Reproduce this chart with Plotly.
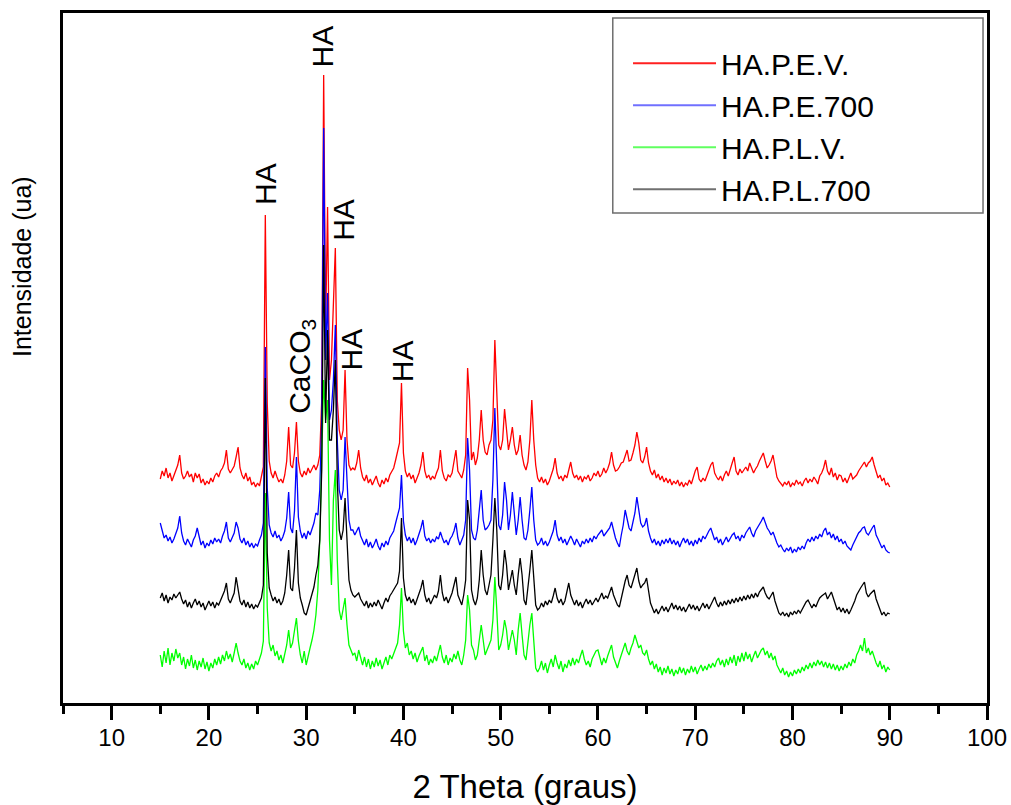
import plotly.graph_objects as go

# ---- scan definition (2-theta, degrees) ----
two_theta_start = 15.0
two_theta_step = 0.2

# ---- series (relative intensities, a.u.), one value per step from 15.0 to 90.0 ----
red_counts = [  # HA.P.E.V.
    44, 52, 47, 55, 45, 50, 42, 48, 53, 58,
    68, 50, 44, 47, 52, 46, 49, 41, 50, 45,
    49, 40, 44, 38, 42, 39, 45, 41, 47, 50,
    46, 52, 55, 60, 73, 54, 50, 53, 57, 66,
    76, 55, 48, 44, 50, 42, 46, 38, 41, 36,
    40, 37, 45, 56, 308, 120, 62, 50, 45, 52,
    46, 41, 44, 40, 48, 62, 96, 58, 55, 70,
    101, 62, 50, 46, 52, 48, 55, 50, 54, 58,
    53, 58, 68, 123, 448, 193, 316, 143, 163, 223,
    275, 123, 93, 83, 93, 153, 83, 58, 53, 55,
    53, 60, 73, 55, 46, 42, 48, 40, 44, 38,
    42, 47, 40, 36, 43, 39, 45, 41, 48, 52,
    55, 63, 73, 80, 140, 70, 52, 46, 50, 44,
    48, 40, 45, 50, 58, 71, 52, 45, 48, 43,
    47, 44, 50, 55, 73, 52, 45, 42, 48, 46,
    50, 62, 73, 52, 48, 45, 53, 68, 155, 123,
    63, 71, 58, 65, 83, 113, 83, 71, 68, 78,
    83, 103, 183, 123, 78, 73, 83, 114, 93, 73,
    83, 96, 78, 68, 73, 88, 68, 58, 53, 61,
    83, 123, 83, 58, 45, 41, 46, 40, 44, 38,
    42, 48, 54, 65, 50, 44, 47, 42, 48, 45,
    52, 61, 50, 45, 48, 43, 47, 41, 46, 44,
    48, 42, 45, 50, 47, 52, 46, 49, 55, 50,
    54, 60, 71, 58, 52, 53, 56, 60, 61, 68,
    73, 62, 63, 70, 78, 91, 80, 63, 60, 66,
    76, 60, 52, 48, 53, 45, 49, 43, 47, 41,
    45, 40, 44, 38, 42, 39, 43, 37, 41, 36,
    40, 38, 43, 39, 46, 52, 56, 44, 41, 45,
    42, 48, 53, 58, 61, 50, 46, 43, 47, 42,
    48, 52, 47, 55, 60, 66, 52, 48, 54, 50,
    53, 56, 52, 60, 55, 50, 54, 57, 62, 66,
    70, 62, 55, 58, 62, 68, 56, 46, 42, 40,
    37, 41, 38, 42, 36, 40, 38, 43, 39, 41,
    37, 42, 45, 40, 44, 41, 46, 43, 39, 47,
    50, 55, 63, 52, 48, 55, 46, 50, 43, 48,
    47, 41, 45, 40, 46, 50, 44, 46, 48, 52,
    55, 58, 61, 56, 60, 62, 66, 58, 50, 45,
    48, 42, 45, 38, 40, 36,
]

blue_counts = [  # HA.P.E.700
    60, 52, 45, 48, 42, 46, 40, 44, 50, 55,
    67, 50, 42, 38, 44, 40, 36, 43, 47, 55,
    46, 38, 42, 35, 40, 37, 43, 39, 45, 41,
    44, 40, 47, 52, 61, 45, 41, 46, 50, 61,
    55, 44, 40, 45, 38, 42, 36, 40, 35, 39,
    37, 43, 48, 60, 236, 95, 58, 50, 46, 52,
    45, 48, 42, 46, 52, 65, 91, 55, 50, 72,
    126, 66, 52, 45, 50, 44, 52, 48, 55, 60,
    70, 68, 93, 163, 455, 223, 290, 163, 173, 203,
    258, 143, 93, 83, 93, 146, 103, 63, 53, 53,
    48, 52, 56, 47, 42, 38, 44, 36, 41, 35,
    39, 44, 37, 33, 40, 36, 42, 38, 45, 48,
    52, 60, 68, 75, 108, 62, 48, 42, 46, 40,
    45, 38, 43, 48, 55, 63, 47, 42, 45, 40,
    44, 41, 46, 44, 51, 45, 40, 43, 38, 44,
    47, 52, 60, 45, 38, 43, 48, 63, 145, 113,
    53, 45, 43, 53, 73, 93, 63, 53, 55, 58,
    63, 103, 175, 113, 58, 53, 68, 101, 83, 53,
    68, 91, 68, 48, 63, 86, 63, 45, 43, 53,
    73, 96, 63, 43, 38, 40, 45, 38, 42, 37,
    41, 46, 52, 63, 48, 42, 46, 40, 44, 38,
    42, 47, 43, 38, 44, 40, 36, 42, 39, 44,
    40, 45, 41, 47, 44, 48, 50, 53, 47, 50,
    52, 55, 61, 52, 45, 40, 36, 48, 58, 73,
    65, 55, 52, 60, 70, 86, 72, 60, 56, 58,
    65, 52, 45, 40, 44, 38, 42, 37, 43, 39,
    44, 40, 45, 39, 43, 38, 42, 36, 41, 45,
    40, 44, 38, 42, 37, 43, 39, 45, 41, 47,
    44, 49, 52, 55, 48, 43, 46, 40, 44, 38,
    42, 46, 41, 45, 48, 50, 44, 47, 42, 48,
    45, 50, 53, 56, 50, 46, 52, 55, 58, 62,
    66, 60, 55, 52, 48, 51, 45, 40, 36, 38,
    34, 31, 35, 32, 36, 30, 34, 31, 36, 33,
    37, 34, 40, 44, 41, 46, 42, 47, 44, 49,
    46, 52, 55, 48, 51, 45, 49, 43, 47, 41,
    44, 39, 42, 37, 35, 33, 38, 42, 47, 50,
    52, 55, 56, 50, 48, 52, 55, 58, 48, 44,
    40, 35, 38, 33, 31, 30,
]

green_counts = [  # HA.P.L.V.
    48, 36, 52, 40, 55, 38, 50, 42, 54, 45,
    50, 38, 46, 34, 44, 37, 48, 35, 43, 33,
    42, 36, 45, 34, 41, 32, 40, 35, 44, 38,
    46, 39, 48, 42, 52, 44, 49, 41, 50, 60,
    50, 42, 38, 44, 35, 40, 33, 39, 34, 42,
    38, 45, 50, 62, 210, 95, 60, 52, 58, 47,
    52, 43, 48, 40, 50, 58, 73, 55, 60, 75,
    85, 62, 48, 40, 52, 38, 48, 55, 63, 73,
    88, 113, 163, 243, 323, 283, 303, 163, 118, 203,
    233, 143, 93, 83, 93, 105, 78, 58, 53, 48,
    50, 42, 53, 45, 38, 46, 36, 44, 34, 42,
    36, 45, 37, 43, 34, 40, 46, 38, 48, 44,
    50, 55, 60, 78, 115, 72, 55, 60, 48, 52,
    44, 50, 41, 47, 52, 56, 42, 48, 38, 44,
    40, 47, 42, 50, 58, 46, 40, 48, 38, 45,
    41, 49, 44, 52, 43, 38, 48, 63, 108, 93,
    58, 53, 43, 48, 63, 78, 63, 48, 53, 58,
    63, 83, 126, 93, 53, 58, 68, 83, 73, 53,
    63, 73, 63, 48, 73, 90, 68, 48, 43, 63,
    78, 90, 63, 35, 31, 35, 42, 33, 40, 30,
    38, 44, 36, 48, 40, 34, 42, 31, 39, 35,
    43, 37, 45, 38, 44, 40, 47, 53, 44, 38,
    42, 36, 44, 48, 52, 53, 44, 38, 45, 40,
    47, 52, 58, 46, 40, 35, 42, 48, 55, 60,
    52, 48, 55, 60, 68, 62, 55, 58, 50, 48,
    53, 44, 38, 42, 34, 39, 31, 36, 28, 35,
    30, 37, 29, 34, 27, 33, 29, 36, 30, 35,
    28, 34, 30, 37, 31, 36, 29, 34, 38, 32,
    37, 33, 39, 35, 40, 36, 42, 45, 38, 43,
    36, 44, 38, 46, 40, 48, 37, 47, 41, 50,
    42, 51, 44, 49, 41, 47, 52, 45, 50, 53,
    55, 48, 52, 45, 50, 43, 47, 38, 34, 30,
    35, 28, 32, 26, 31, 27, 33, 29, 34, 30,
    36, 32, 38, 34, 40, 35, 41, 37, 43, 38,
    42, 36, 41, 35, 40, 34, 39, 33, 38, 32,
    37, 33, 39, 35, 41, 37, 44, 40, 48, 52,
    58, 52, 65, 50, 55, 48, 52, 45, 40, 36,
    42, 34, 38, 31, 36, 33,
]

black_counts = [  # HA.P.L.700
    45, 50, 42, 48, 40, 46, 43, 49, 45, 48,
    51, 44, 39, 43, 36, 41, 35, 40, 44, 38,
    42, 36, 40, 33, 38, 42, 37, 41, 35, 40,
    38, 43, 47, 52, 60, 44, 40, 45, 50, 66,
    52, 42, 38, 43, 36, 41, 35, 39, 34, 38,
    36, 41, 45, 58, 265, 90, 55, 48, 42, 46,
    40, 44, 38, 42, 50, 68, 93, 55, 52, 75,
    113, 60, 45, 38, 30, 28, 35, 42, 48, 56,
    68, 78, 103, 173, 398, 220, 313, 203, 203, 233,
    283, 163, 113, 103, 113, 145, 103, 63, 53, 48,
    46, 48, 50, 44, 40, 37, 42, 35, 40, 36,
    41, 37, 43, 38, 34, 40, 45, 41, 47, 50,
    53, 56, 60, 72, 125, 65, 48, 42, 46, 40,
    44, 38, 43, 48, 55, 63, 48, 41, 45, 39,
    44, 48, 45, 52, 68, 50, 42, 46, 40, 45,
    50, 58, 66, 48, 43, 38, 48, 63, 143, 123,
    53, 43, 38, 45, 63, 93, 68, 53, 48, 58,
    68, 103, 145, 113, 58, 53, 68, 93, 78, 53,
    63, 73, 58, 48, 68, 85, 68, 43, 38, 53,
    73, 93, 63, 38, 33, 35, 40, 36, 42, 38,
    43, 40, 47, 55, 45, 40, 44, 38, 42, 50,
    60, 48, 42, 38, 43, 37, 41, 35, 40, 44,
    39, 43, 38, 42, 45, 41, 46, 50, 44, 47,
    45, 50, 56, 48, 42, 38, 36, 45, 55, 62,
    68, 58, 55, 62, 68, 75, 62, 55, 58, 60,
    65, 50, 40, 35, 30, 34, 29, 33, 37, 32,
    36, 31, 35, 40, 34, 38, 33, 37, 32, 36,
    31, 35, 39, 34, 38, 33, 37, 32, 36, 40,
    35, 39, 34, 38, 42, 46, 40, 36, 41, 37,
    42, 38, 43, 39, 44, 40, 45, 41, 46, 42,
    47, 43, 48, 44, 49, 45, 50, 46, 51, 53,
    56, 50, 46, 44, 48, 51, 42, 35, 30, 28,
    31, 27, 30, 26, 31, 28, 32, 29, 33, 30,
    34, 38, 41, 43, 38, 35, 39, 36, 41, 45,
    47, 49, 50, 44, 47, 51, 45, 38, 33, 36,
    31, 35, 30, 34, 29, 33, 37, 42, 48, 52,
    55, 58, 61, 50, 46, 49, 51, 53, 44, 38,
    32, 28, 31, 27, 30, 29,
]

series_names = ["HA.P.E.V.", "HA.P.E.700", "HA.P.L.V.", "HA.P.L.700"]
series_counts = [red_counts, blue_counts, green_counts, black_counts]
series_offsets = [180, 120, 0, 60]          # vertical stacking offsets (a.u.)
series_colors = ["#FF0000", "#0000FF", "#00FF00", "#000000"]
legend_colors = ["#FF2020", "#7070FF", "#60FF60", "#707070"]

# peak labels: (text, 2-theta, intensity level)
peak_labels = [
    ("HA", 25.82, 518.5),
    ("HA", 31.72, 656.5),
    ("HA", 33.82, 483.5),
    ("HA", 34.71, 353.5),
    ("HA", 39.92, 341.5),
    ("CaCO<sub>3</sub>", 29.45, 337.0),
]

x_tick_values = [10, 20, 30, 40, 50, 60, 70, 80, 90, 100]
x_minor_values = [5, 15, 25, 35, 45, 55, 65, 75, 85, 95]

FONT = "Liberation Sans, Arial, Helvetica, sans-serif"

fig = go.Figure()
for name, counts, off, col in zip(series_names, series_counts, series_offsets, series_colors):
    xs = [round(two_theta_start + i * two_theta_step, 1) for i in range(len(counts))]
    fig.add_trace(go.Scatter(
        x=xs, y=[c + off for c in counts], mode="lines", name=name,
        line=dict(color=col, width=1.3), showlegend=False,
    ))
# legend entries (no data, only legend samples)
for name, col in zip(series_names, legend_colors):
    fig.add_trace(go.Scatter(
        x=[None], y=[None], mode="lines", name=name,
        line=dict(color=col, width=2), showlegend=True,
    ))

annotations = []
for text, xv, yv in peak_labels:
    annotations.append(dict(
        text=text, x=xv, y=yv, xref="x", yref="y", showarrow=False,
        textangle=-90, xanchor="center", yanchor="middle",
        font=dict(family=FONT, size=30, color="black"),
    ))
annotations.append(dict(
    text="Intensidade (ua)", x=-0.0444, y=0.6333, xref="paper", yref="paper",
    showarrow=False, textangle=-90, xanchor="center", yanchor="middle",
    font=dict(family=FONT, size=25, color="black"),
))

fig.update_layout(
    width=1011, height=805,
    margin=dict(l=63, r=24, t=13, b=102, autoexpand=False),
    paper_bgcolor="white", plot_bgcolor="white",
    font=dict(family=FONT, color="black"),
    showlegend=True,
    legend=dict(
        x=0.6115, y=0.9650, xanchor="left", yanchor="top",
        bgcolor="rgba(0,0,0,0)", borderwidth=0,
        font=dict(family=FONT, size=30, color="black"),
        itemwidth=83, tracegroupgap=0,
    ),
    annotations=annotations,
    shapes=[dict(
        type="rect", xref="paper", yref="paper",
        x0=0.595, x1=0.9957, y0=0.7101, y1=0.9928,
        line=dict(color="#6e6e6e", width=1.5), fillcolor="rgba(0,0,0,0)",
    )],
    xaxis=dict(
        range=[5, 100], tickmode="array", tickvals=x_tick_values,
        ticks="outside", ticklen=14, tickwidth=3, tickcolor="black",
        ticklabelstandoff=-3,
        showline=True, linewidth=3, linecolor="black", mirror=True,
        showgrid=False, zeroline=False, automargin=False,
        tickfont=dict(family=FONT, size=24, color="black"),
        minor=dict(tickvals=x_minor_values,
                   ticks="outside", ticklen=8, tickwidth=3, tickcolor="black",
                   showgrid=False),
        title=dict(text="2 Theta (graus)", font=dict(family=FONT, size=33, color="black"),
                   standoff=26),
    ),
    yaxis=dict(
        range=[0, 690], showticklabels=False, ticks="",
        showline=True, linewidth=3, linecolor="black", mirror=True,
        showgrid=False, zeroline=False, automargin=False,
    ),
)

fig.write_html("out.html")
